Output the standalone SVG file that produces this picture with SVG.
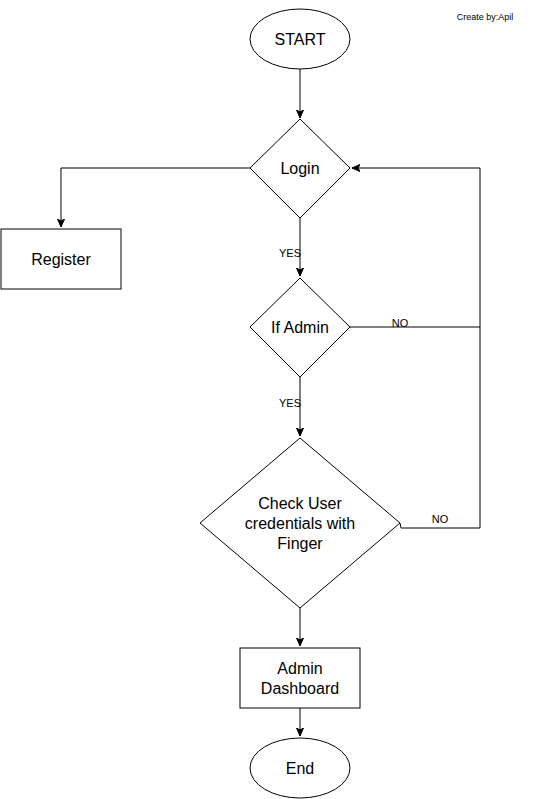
<svg xmlns="http://www.w3.org/2000/svg" width="541" height="799" viewBox="0 0 541 799">
<defs>
<style>
.shape{fill:#ffffff;stroke:#000000;stroke-width:1}
.edge{fill:none;stroke:#000000;stroke-width:1}
.t{font-family:"Liberation Sans",Arial,sans-serif;font-size:16px;fill:#000000;text-anchor:middle;dominant-baseline:central}
.lbl{font-family:"Liberation Sans",Arial,sans-serif;font-size:11px;fill:#000000;text-anchor:middle;dominant-baseline:central}
</style>
<marker id="arr" markerWidth="10" markerHeight="9" refX="8" refY="4" orient="auto" markerUnits="userSpaceOnUse">
<path d="M0,0.5 L8,4 L0,7.5 L2,4 Z" fill="#000000" stroke="#000000" stroke-width="1"/>
</marker>
</defs>
<rect width="541" height="799" fill="#ffffff"/>
<text x="485" y="17" style="font-family:'Liberation Sans',Arial,sans-serif;font-size:9px;text-anchor:middle;dominant-baseline:central">Create by:Apil</text>
<g id="connectors">
<path class="edge" d="M300,69 L300,118" marker-end="url(#arr)"/>
<path class="edge" d="M250,168 L61,168 L61,227" marker-end="url(#arr)"/>
<path class="edge" d="M300,218 L300,276" marker-end="url(#arr)"/>
<path class="edge" d="M350,327 L480,327"/>
<path class="edge" d="M300,377 L300,436" marker-end="url(#arr)"/>
<path class="edge" d="M400,523 L401,528 L480,528 L480,168 L352,168" marker-end="url(#arr)"/>
<path class="edge" d="M300,608 L300,646" marker-end="url(#arr)"/>
<path class="edge" d="M300,708 L300,736" marker-end="url(#arr)"/>
<text class="lbl" x="290" y="253">YES</text>
<text class="lbl" x="400" y="323">NO</text>
<text class="lbl" x="290" y="403">YES</text>
<text class="lbl" x="440" y="519">NO</text>
</g>
<g id="start">
<ellipse class="shape" cx="300" cy="39" rx="50" ry="30"/>
<text class="t" x="300" y="39">START</text>
</g>
<g id="login">
<polygon class="shape" points="300,119 350,168 300,218 250,168"/>
<text class="t" x="300" y="168">Login</text>
</g>
<g id="register">
<rect class="shape" x="1" y="229" width="120" height="60"/>
<text class="t" x="61" y="259">Register</text>
</g>
<g id="ifadmin">
<polygon class="shape" points="300,278 350,327 300,377 250,327"/>
<text class="t" x="300" y="327">If Admin</text>
</g>
<g id="check">
<polygon class="shape" points="300,438 400,523 300,608 200,523"/>
<text class="t" x="300" y="503">Check User</text>
<text class="t" x="300" y="523">credentials with</text>
<text class="t" x="300" y="543">Finger</text>
</g>
<g id="dashboard">
<rect class="shape" x="240" y="648" width="120" height="60"/>
<text class="t" x="300" y="668">Admin</text>
<text class="t" x="300" y="688">Dashboard</text>
</g>
<g id="end">
<ellipse class="shape" cx="300" cy="768" rx="50" ry="30"/>
<text class="t" x="300" y="768">End</text>
</g>
</svg>
